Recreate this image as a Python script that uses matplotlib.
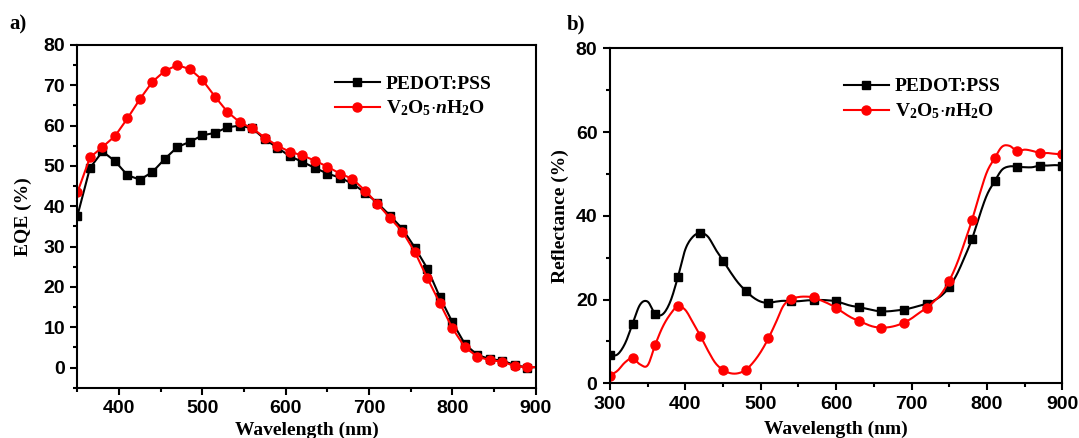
import numpy as np
import matplotlib
matplotlib.use('Agg')
import matplotlib.pyplot as plt
from matplotlib.ticker import MultipleLocator
from matplotlib.font_manager import FontProperties

# 字体设置
plt.rcParams['mathtext.fontset'] = 'custom'
plt.rcParams['mathtext.rm'] = 'Liberation Serif:bold'
plt.rcParams['mathtext.bf'] = 'Liberation Serif:bold'
plt.rcParams['mathtext.it'] = 'Liberation Serif:italic:bold'

# ============================================================
# 数据 a) EQE
# ============================================================
wl_eqe = [350, 365, 380, 395, 410, 425, 440, 455, 470, 485, 500, 515, 530, 545,
          560, 575, 590, 605, 620, 635, 650, 665, 680, 695, 710, 725, 740, 755,
          770, 785, 800, 815, 830, 845, 860, 875, 890, 900]
eqe_pedot = [37.7, 49.5, 53.6, 51.2, 47.7, 46.6, 48.5, 51.8, 54.7, 56.0, 57.6, 58.2,
             59.6, 60.0, 59.3, 56.6, 54.5, 52.4, 51.0, 49.5, 48.1, 47.1, 45.6, 43.4,
             40.8, 37.7, 34.4, 29.7, 24.5, 17.4, 11.2, 5.8, 3.1, 2.1, 1.7, 0.6, 0.0, 0.1]
eqe_v2o5 = [43.5, 52.1, 54.7, 57.4, 61.8, 66.6, 70.9, 73.6, 75.0, 74.0, 71.3, 67.2,
            63.4, 60.8, 59.3, 57.0, 55.0, 53.5, 52.6, 51.3, 49.8, 48.1, 46.8, 43.9,
            40.6, 37.1, 33.7, 28.6, 22.1, 15.9, 9.7, 5.0, 2.7, 1.8, 1.5, 0.3, 0.1, 0.1]

# ============================================================
# 数据 b) 反射率
# ============================================================
wl_ref = list(range(300, 901, 10))
ref_pedot = [6.7, 6.9, 9.5, 14.2, 18.8, 19.5, 16.6, 16.5, 19.5, 25.3,
             32.0, 35.0, 35.9, 35.0, 32.0, 29.3, 26.5, 24.0, 22.1, 20.5,
             19.5, 19.2, 19.5, 19.7, 19.6, 19.6, 19.8, 19.8, 19.9, 19.8,
             19.6, 19.0, 18.5, 18.2, 17.8, 17.4, 17.2, 17.2, 17.4, 17.6,
             18.0, 18.5, 19.0, 19.8, 21.0, 23.0, 26.0, 30.0, 34.4, 40.0,
             45.0, 48.2, 51.0, 51.8, 51.7, 51.6, 51.6, 52.0, 52.0, 52.1, 52.0]
ref_v2o5 = [1.8, 3.0, 5.0, 6.0, 4.5, 4.3, 9.2, 13.5, 16.5, 18.4,
            17.5, 14.5, 11.3, 7.8, 4.8, 3.2, 2.4, 2.4, 3.2, 5.0,
            7.5, 10.7, 14.5, 18.5, 20.1, 20.6, 20.7, 20.5, 19.8, 19.0,
            18.0, 16.8, 15.7, 14.9, 14.1, 13.5, 13.3, 13.4, 13.8, 14.5,
            15.5, 16.8, 18.0, 19.6, 21.5, 24.5, 28.5, 33.5, 38.9, 45.0,
            50.5, 53.7, 56.5, 56.7, 55.4, 55.8, 55.5, 55.0, 55.0, 54.8, 54.7]

labels = ['PEDOT:PSS', r'V$_{\mathbf{2}}$O$_{\mathbf{5}}$$\cdot$$\mathit{n}$H$_{\mathbf{2}}$O']

tick_font = {'family': 'Liberation Sans', 'weight': 'bold', 'size': 14}
label_font = {'family': 'Liberation Serif', 'weight': 'bold', 'size': 14}
leg_font = {'family': 'Liberation Serif', 'weight': 'bold', 'size': 14}

SUB = 8  # 绘制样条时每段细分数


def spline_line(x, y, n=SUB):
    """Catmull-Rom 样条连线（仿 Origin 的 Spline 连接方式）"""
    x = np.asarray(x, float)
    y = np.asarray(y, float)
    xp = np.r_[2 * x[0] - x[1], x, 2 * x[-1] - x[-2]]
    yp = np.r_[2 * y[0] - y[1], y, 2 * y[-1] - y[-2]]
    xs, ys = [], []
    t = np.linspace(0, 1, n, endpoint=False)
    for i in range(1, len(xp) - 2):
        p0, p1, p2, p3 = yp[i - 1], yp[i], yp[i + 1], yp[i + 2]
        ys.append(0.5 * (2 * p1 + (-p0 + p2) * t + (2 * p0 - 5 * p1 + 4 * p2 - p3) * t ** 2
                         + (-p0 + 3 * p1 - 3 * p2 + p3) * t ** 3))
        xs.append(xp[i] + (xp[i + 1] - xp[i]) * t)
    xs.append([x[-1]])
    ys.append([y[-1]])
    return np.concatenate(xs), np.concatenate(ys)


def style_axis(ax):
    for s in ax.spines.values():
        s.set_linewidth(1.5)
    ax.tick_params(which='both', direction='out', top=False, right=False, width=1.5, pad=4)
    ax.tick_params(which='major', length=5)
    ax.tick_params(which='minor', length=3)
    for t in ax.get_xticklabels() + ax.get_yticklabels():
        t.set_fontproperties(FontProperties(**tick_font))


fig = plt.figure(figsize=(10.79, 4.38), dpi=100)
ax1 = fig.add_axes([0.0718, 0.1148, 0.4248, 0.7825])
ax2 = fig.add_axes([0.5653, 0.1249, 0.4193, 0.7648])

# a) EQE
ax1.plot(wl_eqe, eqe_pedot, color='black', lw=1.5, marker='s', ms=5.5,
         markevery=slice(0, len(wl_eqe) - 1), label=labels[0])
ax1.plot(wl_eqe, eqe_v2o5, color='#ff0000', lw=1.5, marker='o', ms=6.5,
         markevery=slice(0, len(wl_eqe) - 1), label=labels[1])
ax1.set_xlim(350, 900)
ax1.set_ylim(-5, 80)
ax1.xaxis.set_major_locator(MultipleLocator(100))
ax1.xaxis.set_minor_locator(MultipleLocator(50))
ax1.yaxis.set_major_locator(MultipleLocator(10))
ax1.yaxis.set_minor_locator(MultipleLocator(5))
ax1.set_xlabel('Wavelength (nm)', fontdict=label_font)
ax1.set_ylabel('EQE (%)', fontdict=label_font)
ax1.xaxis.set_label_coords(0.5, -0.1)
ax1.yaxis.set_label_coords(-0.1, 0.5)
style_axis(ax1)
ax1.legend(prop=leg_font, frameon=False, loc='upper left',
           bbox_to_anchor=(0.545, 0.935), handlelength=2.3, handletextpad=0.3,
           labelspacing=0.3, borderaxespad=0)

# b) 反射率
xs, ys = spline_line(wl_ref, ref_pedot)
ax2.plot(xs, ys, color='black', lw=1.5, marker='s', ms=5.5,
         markevery=3 * SUB, label=labels[0])
xs, ys = spline_line(wl_ref, ref_v2o5)
ax2.plot(xs, ys, color='#ff0000', lw=1.5, marker='o', ms=6.5,
         markevery=3 * SUB, label=labels[1])
ax2.set_xlim(300, 900)
ax2.set_ylim(0, 80)
ax2.xaxis.set_major_locator(MultipleLocator(100))
ax2.xaxis.set_minor_locator(MultipleLocator(50))
ax2.yaxis.set_major_locator(MultipleLocator(20))
ax2.yaxis.set_minor_locator(MultipleLocator(10))
ax2.set_xlabel('Wavelength (nm)', fontdict=label_font)
ax2.set_ylabel('Reflectance (%)', fontdict=label_font)
ax2.xaxis.set_label_coords(0.5, -0.113)
ax2.yaxis.set_label_coords(-0.09, 0.5)
style_axis(ax2)
ax2.legend(prop=leg_font, frameon=False, loc='upper left',
           bbox_to_anchor=(0.5, 0.935), handlelength=2.3, handletextpad=0.3,
           labelspacing=0.3, borderaxespad=0)

fig.text(0.009, 0.945, 'a)', fontdict={'family': 'Liberation Serif', 'weight': 'bold', 'size': 15},
         va='center', ha='left')
fig.text(0.525, 0.943, 'b)', fontdict={'family': 'Liberation Serif', 'weight': 'bold', 'size': 15},
         va='center', ha='left')

plt.savefig('out.png', dpi=100)
